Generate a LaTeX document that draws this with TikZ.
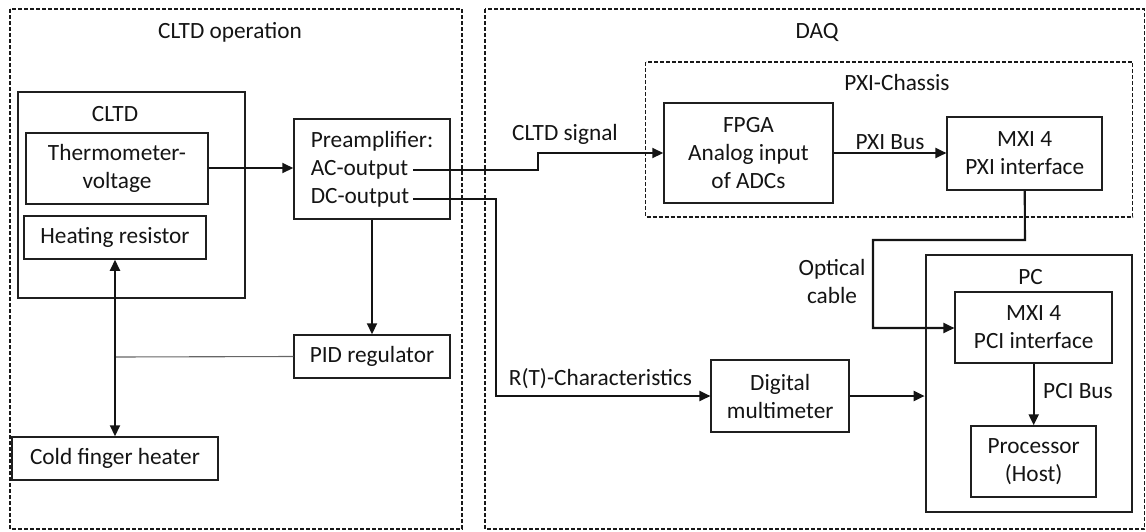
\documentclass[tikz,border=0pt]{standalone}
\usepackage{fontspec}
\setmainfont{Carlito}
\usetikzlibrary{arrows.meta}
\begin{document}
\begin{tikzpicture}[x=1pt,y=-1pt,
  every node/.style={font=\fontsize{23.3}{28}\selectfont, text=black!92, inner sep=0pt},
  box/.style={draw=black!88, line width=1.5pt, rectangle},
  thickbox/.style={draw=black!88, line width=2.3pt, rectangle},
  dbox/.style={draw=black!90, line width=1.3pt, dash pattern=on 4pt off 2pt},
  conn/.style={draw=black!92, line width=2.1pt},
  arr/.style={conn, -{Triangle[length=11pt,width=10pt]}},
  darr/.style={conn, {Triangle[length=11pt,width=10pt]}-{Triangle[length=11pt,width=10pt]}},
  lbl/.style={align=center}]
\useasboundingbox (0,0) rectangle (1146,531);
% group frames
\draw[dbox] (10,9) rectangle (462,529);
\draw[dbox] (485,9) rectangle (1144.5,529);
\draw[dbox] (645.5,62) rectangle (1132.5,217);
\node (tcltdop) at (230,32) {CLTD operation};
\node (tdaq) at (817,32) {DAQ};
\node (tpxi) at (897,82) {PXI-Chassis};
% CLTD group
\node[thickbox, minimum width=227pt, minimum height=206pt] (cltd) at (131.5,195) {};
\node (tcltd) at (115,114) {CLTD};
\node[box, minimum width=182pt, minimum height=71pt, lbl] (thermo) at (117,168.5) {Thermometer-\\voltage};
\node[box, minimum width=182pt, minimum height=43pt] (heat) at (115,237.5) {Heating resistor};
\node[box, minimum width=156pt, minimum height=100pt, align=left] (pre) at (372,169) {Preamplifier:\\AC-output\\DC-output};
\coordinate (acend) at (413,170);
\coordinate (dcend) at (413,199);
\node[box, minimum width=156pt, minimum height=43pt] (pid) at (372,356.5) {PID regulator};
\node[box, minimum width=206pt, minimum height=43pt] (cold) at (115,458.5) {Cold finger heater};
\coordinate (junc) at (115,357);
% DAQ
\node[box, minimum width=169pt, minimum height=100pt, lbl] (fpga) at (748.5,153) {FPGA\\Analog input\\of ADCs};
\node[box, minimum width=155pt, minimum height=73pt, lbl] (mxipxi) at (1024.7,153.5) {MXI 4\\PXI interface};
\node[thickbox, minimum width=206pt, minimum height=257pt] (pc) at (1028.8,383.5) {};
\node (tpc) at (1030.5,277) {PC};
\node[box, minimum width=157pt, minimum height=71pt, lbl] (mxipci) at (1033.7,327.5) {MXI 4\\PCI interface};
\node[box, minimum width=125pt, minimum height=71pt, lbl] (proc) at (1033.7,461.5) {Processor\\(Host)};
\node[box, minimum width=138pt, minimum height=72pt, lbl] (dmm) at (780.2,396) {Digital\\multimeter};
% labels
\node (tsig) at (565,134) {CLTD signal};
\node (trt) at (600.5,379) {R(T)-Characteristics};
\node (tpxibus) at (890,142) {PXI Bus};
\node[lbl] (topt) at (832,281) {Optical\\cable};
\node[anchor=west] (tpcibus) at (1043,391) {PCI Bus};
% connectors
\draw[arr] (thermo.east |- 0,168) -- (pre.west |- 0,168);
\draw[arr] (acend) -- (538,170) -- (538,153) -- (fpga.west);
\draw[arr] (dcend) -- (496,199) -- (496,396) -- (dmm.west);
\draw[arr] (pre.south) -- (pid.north);
\draw[draw=black!60, line width=1.1pt] (pid.west) -- (junc);
\draw[darr] (heat.south) -- (cold.north);
\draw[arr] (fpga.east) -- (mxipxi.west |- fpga.east);
\draw[arr] (mxipxi.south) -- (1025,240) -- (873,240) -- (873,328) -- (mxipci.west |- 0,328);
\draw[arr] (mxipci.south) -- (proc.north);
\draw[arr] (dmm.east) -- (pc.west |- dmm.east);
\end{tikzpicture}
\end{document}
